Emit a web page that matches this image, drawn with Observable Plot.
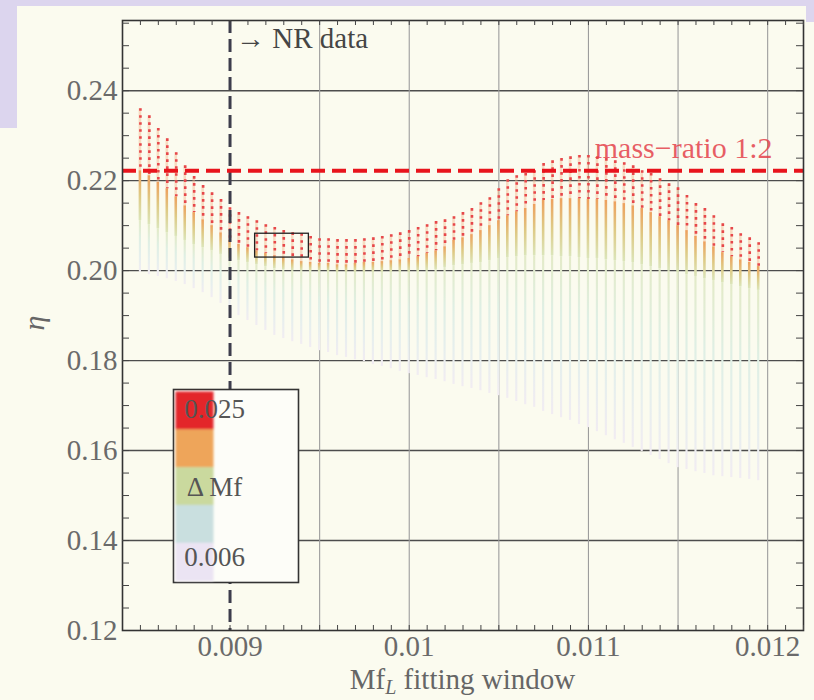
<!DOCTYPE html>
<html>
<head>
<meta charset="utf-8">
<script src="https://cdn.jsdelivr.net/npm/d3@7"></script>
<script src="https://cdn.jsdelivr.net/npm/@observablehq/plot@0.6"></script>
<style>
  html, body { margin: 0; padding: 0; }
  body { width: 814px; height: 700px; overflow: hidden; position: relative; background: #dcd5ee; }
  .panel { position: absolute; background: #fbfbef; }
  #chart { position: absolute; left: 0; top: 0; }
  #chart svg text, #chart svg tspan { font-family: "Liberation Serif", "DejaVu Serif", serif !important; }
</style>
</head>
<body>
<div class="panel" style="left:17px;top:6px;right:8px;bottom:0"></div>
<div class="panel" style="left:0;top:128px;width:20px;bottom:0"></div>
<div class="panel" style="left:790px;top:22px;right:0;bottom:0"></div>
<div id="chart"></div>
<script>
// Fitting-window scan: for every lower cutoff Mf_L the estimated η is shown as a
// column whose colour runs with the window width ΔMf (0.006 at the bottom, 0.025 at the top).
const mfL = [
  0.0085, 0.00855, 0.0086, 0.00865, 0.0087, 0.00875, 0.0088, 0.00885, 0.0089, 0.00895,
  0.009, 0.00905, 0.0091, 0.00915, 0.0092, 0.00925, 0.0093, 0.00935, 0.0094, 0.00945,
  0.0095, 0.00955, 0.0096, 0.00965, 0.0097, 0.00975, 0.0098, 0.00985, 0.0099, 0.00995,
  0.01, 0.01005, 0.0101, 0.01015, 0.0102, 0.01025, 0.0103, 0.01035, 0.0104, 0.01045,
  0.0105, 0.01055, 0.0106, 0.01065, 0.0107, 0.01075, 0.0108, 0.01085, 0.0109, 0.01095,
  0.011, 0.01105, 0.0111, 0.01115, 0.0112, 0.01125, 0.0113, 0.01135, 0.0114, 0.01145,
  0.0115, 0.01155, 0.0116, 0.01165, 0.0117, 0.01175, 0.0118, 0.01185, 0.0119, 0.01195
];
// η at the widest window (ΔMf = 0.025)
const etaTop = [
  0.2360, 0.2344, 0.2316, 0.2293, 0.2262, 0.2233, 0.2209, 0.2189, 0.2173, 0.2158,
  0.2140, 0.2129, 0.2120, 0.2111, 0.2102, 0.2096, 0.2089, 0.2084, 0.2082, 0.2076,
  0.2071, 0.2071, 0.2069, 0.2069, 0.2069, 0.2071, 0.2073, 0.2076, 0.2080, 0.2084,
  0.2089, 0.2096, 0.2102, 0.2109, 0.2113, 0.2120, 0.2129, 0.2138, 0.2151, 0.2162,
  0.2182, 0.2202, 0.2211, 0.2216, 0.2222, 0.2238, 0.2244, 0.2249, 0.2253, 0.2256,
  0.2256, 0.2253, 0.2249, 0.2244, 0.2240, 0.2233, 0.2222, 0.2216, 0.2204, 0.2193,
  0.2184, 0.2167, 0.2149, 0.2138, 0.2122, 0.2104, 0.2096, 0.2082, 0.2073, 0.2062
];
// η where the red points end (ΔMf ≈ 0.021)
const etaRedEnd = [
  0.2222, 0.2211, 0.2196, 0.2182, 0.2164, 0.2144, 0.2129, 0.2113, 0.2100, 0.2084,
  0.2067, 0.2058, 0.2051, 0.2044, 0.2038, 0.2033, 0.2029, 0.2024, 0.2020, 0.2018,
  0.2016, 0.2016, 0.2013, 0.2013, 0.2016, 0.2018, 0.2018, 0.2020, 0.2022, 0.2024,
  0.2027, 0.2031, 0.2038, 0.2044, 0.2053, 0.2067, 0.2073, 0.2080, 0.2089, 0.2100,
  0.2111, 0.2122, 0.2131, 0.2138, 0.2147, 0.2156, 0.2158, 0.2160, 0.2160, 0.2160,
  0.2158, 0.2158, 0.2156, 0.2153, 0.2149, 0.2144, 0.2138, 0.2129, 0.2120, 0.2111,
  0.2100, 0.2089, 0.2076, 0.2064, 0.2053, 0.2040, 0.2031, 0.2024, 0.2018, 0.2009
];
// η where the orange/yellow part ends (ΔMf ≈ 0.015)
const etaPaleStart = [
  0.2111, 0.2102, 0.2093, 0.2084, 0.2076, 0.2067, 0.2058, 0.2051, 0.2044, 0.2036,
  0.2027, 0.2022, 0.2018, 0.2013, 0.2009, 0.2004, 0.2002, 0.2000, 0.2000, 0.1998,
  0.1998, 0.1998, 0.1996, 0.1996, 0.1996, 0.1996, 0.1996, 0.1996, 0.1996, 0.1996,
  0.1996, 0.1998, 0.2000, 0.2002, 0.2007, 0.2011, 0.2013, 0.2016, 0.2018, 0.2022,
  0.2027, 0.2029, 0.2031, 0.2033, 0.2033, 0.2033, 0.2033, 0.2031, 0.2031, 0.2029,
  0.2027, 0.2027, 0.2024, 0.2022, 0.2020, 0.2018, 0.2013, 0.2009, 0.2004, 0.2000,
  0.1996, 0.1991, 0.1987, 0.1982, 0.1978, 0.1973, 0.1969, 0.1964, 0.1960, 0.1956
];
// η at the narrowest window (ΔMf = 0.006)
const etaBottom = [
  0.1996, 0.1991, 0.1987, 0.1982, 0.1976, 0.1969, 0.1960, 0.1951, 0.1940, 0.1927,
  0.1911, 0.1900, 0.1889, 0.1878, 0.1867, 0.1856, 0.1849, 0.1842, 0.1836, 0.1829,
  0.1822, 0.1818, 0.1811, 0.1807, 0.1802, 0.1798, 0.1791, 0.1787, 0.1782, 0.1776,
  0.1771, 0.1767, 0.1762, 0.1758, 0.1753, 0.1747, 0.1742, 0.1738, 0.1733, 0.1727,
  0.1722, 0.1716, 0.1709, 0.1702, 0.1696, 0.1687, 0.1680, 0.1673, 0.1667, 0.1658,
  0.1651, 0.1642, 0.1633, 0.1624, 0.1616, 0.1607, 0.1598, 0.1589, 0.1580, 0.1571,
  0.1562, 0.1558, 0.1553, 0.1549, 0.1544, 0.1542, 0.1540, 0.1538, 0.1536, 0.1533
];

// ΔMf colour key
const deltaMfStops = [0.006, 0.01075, 0.0155, 0.02025, 0.025];
const deltaMfColors = ["#ebe4f3", "#c9dfdf", "#cad99e", "#eea55a", "#e3262b"];
const legendLabels = ["0.025", "Δ Mf", "0.006"];

// reference lines and the highlighted window
const nrStart = 0.009;            // start of the NR data
const massRatioEta = 0.2222;      // η for mass ratio 1:2
const boxMf = [0.00914, 0.00944];
const boxEta = [0.2029, 0.2082];

// axes
const xTicks = [0.009, 0.01, 0.011, 0.012];
const xTickLabels = ["0.009", "0.01", "0.011", "0.012"];
const xGrid = [0.0095, 0.01, 0.0105, 0.011, 0.0115, 0.012];
const yTicks = [0.12, 0.14, 0.16, 0.18, 0.20, 0.22, 0.24];
const yTickLabels = ["0.12", "0.14", "0.16", "0.18", "0.20", "0.22", "0.24"];
const xMinor = d3.range(0.0085, 0.01221, 0.0001);
const yMinor = d3.range(0.125, 0.2556, 0.005);

const W = 814, H = 700, mL = 122, mR = 11, mT = 20, mB = 70;
const innerW = W - mL - mR, innerH = H - mT - mB;
const fs = 29;

const cols = mfL.map((mf, i) => ({
  mf, top: etaTop[i], redEnd: etaRedEnd[i], paleStart: etaPaleStart[i], bottom: etaBottom[i]
}));

const deltaColor = d3.scaleLinear().domain(deltaMfStops).range(deltaMfColors).interpolate(d3.interpolateHcl);
const cream = "#fbfbef";
const soften = (c, t) => d3.interpolateRgb(c, cream)(t);

const half = 0.0000060, halfWarm = 0.0000072;

const chart = Plot.plot({
  width: W, height: H,
  marginLeft: mL, marginRight: mR, marginTop: mT, marginBottom: mB,
  style: { background: "transparent", fontSize: fs + "px", color: "#666" },
  x: { domain: [0.0084, 0.0122] },
  y: { domain: [0.12, 0.2556] },
  marks: [
    Plot.ruleY(yTicks.slice(1), { stroke: "#4d4d4d", strokeWidth: 1.4 }),
    Plot.ruleX(xGrid, { stroke: "#9d9d9d", strokeWidth: 1.1 }),
    // narrow windows: pale part of every column
    Plot.rect(cols, {
      x1: d => d.mf - half, x2: d => d.mf + half,
      y1: "bottom", y2: "paleStart", fill: "url(#paleGrad)"
    }),
    // medium windows: orange to yellow
    Plot.rect(cols, {
      x1: d => d.mf - halfWarm, x2: d => d.mf + halfWarm,
      y1: "paleStart", y2: "redEnd", fill: "url(#warmGrad)"
    }),
    // widest windows: red points over a faint warm wash
    Plot.rect(cols, {
      x1: d => d.mf - halfWarm, x2: d => d.mf + halfWarm,
      y1: "redEnd", y2: "top", fill: "#f3b48a", fillOpacity: 0.45
    }),
    Plot.ruleX(cols, {
      x: "mf", y1: "top", y2: "redEnd",
      stroke: "#e6474b", strokeWidth: 2.6, strokeDasharray: "2.6,4.4"
    }),
    Plot.ruleX([nrStart], { stroke: "#3d3d4c", strokeWidth: 3, strokeDasharray: "13,6" }),
    Plot.ruleY([massRatioEta], { stroke: "#e8141c", strokeWidth: 4, strokeDasharray: "14,7" }),
    Plot.rect([{ x1: boxMf[0], x2: boxMf[1], y1: boxEta[0], y2: boxEta[1] }], {
      x1: "x1", x2: "x2", y1: "y1", y2: "y2", fill: "none", stroke: "#222", strokeWidth: 1.3
    }),
    Plot.frame({ stroke: "#333", strokeWidth: 1.6 }),
    // inward minor ticks on all four sides
    Plot.tickX(xMinor, { x: d => d, insetTop: innerH - 5, stroke: "#444" }),
    Plot.tickX(xMinor, { x: d => d, insetBottom: innerH - 5, stroke: "#444" }),
    Plot.tickY(yMinor, { y: d => d, insetRight: innerW - 7, stroke: "#444" }),
    Plot.tickY(yMinor, { y: d => d, insetLeft: innerW - 7, stroke: "#444" }),
    Plot.axisX({
      ticks: xTicks, tickFormat: d => xTickLabels[xTicks.indexOf(d)],
      tickSize: 0, tickPadding: 5, label: null, fontSize: fs, fill: "#6a6a6a"
    }),
    Plot.axisY({
      ticks: yTicks, tickFormat: d => yTickLabels[yTicks.indexOf(d)],
      tickSize: 0, tickPadding: 5, label: null, fontSize: fs, fill: "#6a6a6a"
    }),
    Plot.text(["→ NR data"], {
      x: nrStart, frameAnchor: "top", textAnchor: "start", lineAnchor: "top",
      dx: 6, dy: 7, fontSize: fs, fill: "#454545"
    }),
    Plot.text(["mass−ratio 1:2"], {
      y: massRatioEta, frameAnchor: "right", textAnchor: "end", lineAnchor: "bottom",
      dx: -31, dy: -13, fontSize: fs + 1, fill: "#e4414b", fillOpacity: 0.85
    })
  ]
});

const svg = d3.select(chart);
const defs = svg.insert("defs", ":first-child");
function gradient(id, stops) {
  const g = defs.append("linearGradient").attr("id", id)
    .attr("x1", 0).attr("y1", 0).attr("x2", 0).attr("y2", 1);
  stops.forEach(([o, c]) => g.append("stop").attr("offset", o).attr("stop-color", c));
}
gradient("warmGrad", [
  [0, soften(deltaColor(0.021), 0.1)], [0.5, soften(deltaColor(0.018), 0.15)], [1, soften(deltaColor(0.0155), 0.35)]
]);
gradient("paleGrad", [
  [0, soften(deltaColor(0.0155), 0.5)], [0.35, soften(deltaColor(0.012), 0.55)],
  [0.7, soften(deltaColor(0.009), 0.5)], [1, soften(deltaColor(0.006), 0.35)]
]);
defs.append("filter").attr("id", "soft").append("feGaussianBlur").attr("stdDeviation", 1.1);

// axis titles
const xr = chart.scale("x").range;
const xTitle = svg.append("text")
  .attr("x", (xr[0] + xr[1]) / 2).attr("y", 689)
  .attr("text-anchor", "middle").attr("font-size", fs).attr("fill", "#666");
xTitle.append("tspan").text("Mf");
xTitle.append("tspan").attr("font-style", "italic").attr("font-size", 20).attr("dy", 5).text("L");
xTitle.append("tspan").attr("dy", -5).text(" fitting window");

svg.append("text")
  .attr("transform", "translate(44,323) rotate(-90)")
  .attr("text-anchor", "middle").attr("font-style", "italic")
  .attr("font-size", 30).attr("fill", "#666").text("η");

// ΔMf legend
const lg = svg.append("g").attr("transform", "translate(173.5,389.5)");
const boxW = 125, boxH = 193, swW = 38;
lg.append("rect").attr("width", boxW).attr("height", boxH)
  .attr("fill", "#fdfdf8").attr("stroke", "#333").attr("stroke-width", 1.6);
const sw = lg.append("g").attr("filter", "url(#soft)");
const swH = (boxH - 4) / deltaMfColors.length;
deltaMfColors.slice().reverse().forEach((c, i) => {
  sw.append("rect").attr("x", 2).attr("y", 2 + i * swH)
    .attr("width", swW).attr("height", swH + 0.5).attr("fill", c);
});
[28, 106, 176].forEach((yy, i) => {
  lg.append("text").attr("x", 41).attr("y", yy)
    .attr("font-size", 27).attr("fill", "#555").text(legendLabels[i]);
});

document.getElementById("chart").appendChild(chart);
</script>
</body>
</html>
